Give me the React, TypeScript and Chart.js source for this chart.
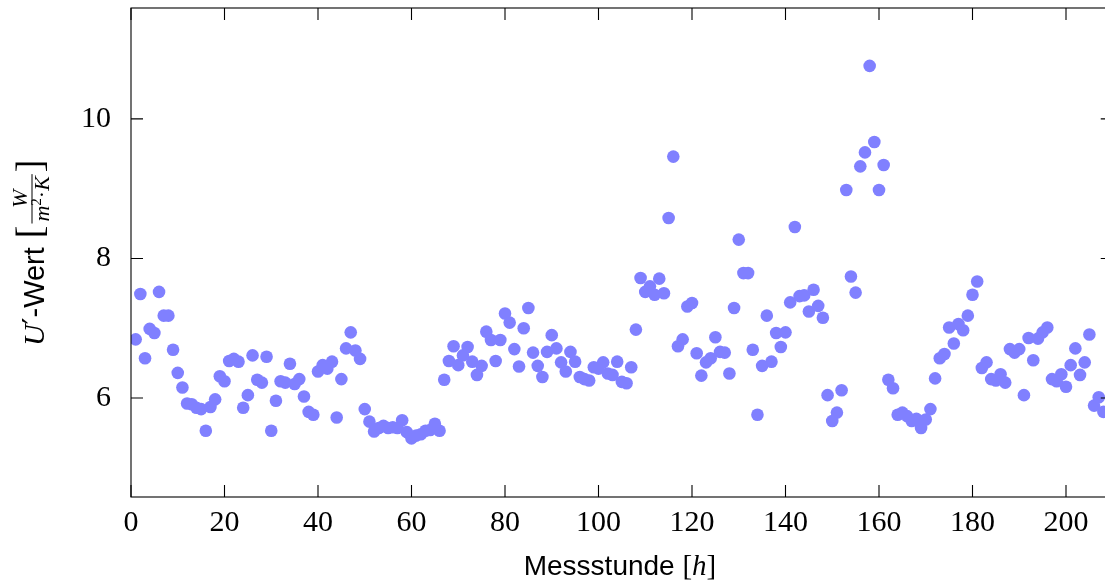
import { useEffect, useRef } from 'react';
import { Chart, registerables } from 'chart.js';

Chart.register(...registerables);

const X_MIN = 0;
const X_MAX = 210;
const Y_MIN = 4.58;
const Y_MAX = 11.59;
const X_TICKS = [0, 20, 40, 60, 80, 100, 120, 140, 160, 180, 200];
const Y_TICKS = [6, 8, 10];
const POINT_COLOR = 'rgb(128,128,255)';

// U'-Wert per Messstunde (hour 1 .. 208)
const U_VALUES = [
  6.84, 7.49, 6.57, 6.99, 6.93, 7.52, 7.18, 7.18, 6.69, 6.36,
  6.15, 5.92, 5.91, 5.86, 5.84, 5.53, 5.87, 5.98, 6.31, 6.24,
  6.53, 6.56, 6.52, 5.86, 6.04, 6.61, 6.26, 6.22, 6.59, 5.53,
  5.96, 6.24, 6.22, 6.49, 6.20, 6.27, 6.02, 5.80, 5.76, 6.38,
  6.47, 6.42, 6.52, 5.72, 6.27, 6.71, 6.94, 6.68, 6.56, 5.84,
  5.66, 5.52, 5.57, 5.60, 5.57, 5.58, 5.57, 5.68, 5.51, 5.42,
  5.46, 5.48, 5.53, 5.54, 5.63, 5.53, 6.26, 6.53, 6.74, 6.47,
  6.61, 6.73, 6.52, 6.33, 6.46, 6.95, 6.83, 6.53, 6.83, 7.21,
  7.08, 6.70, 6.45, 7.00, 7.29, 6.65, 6.46, 6.30, 6.66, 6.90,
  6.71, 6.51, 6.38, 6.66, 6.52, 6.30, 6.27, 6.25, 6.44, 6.42,
  6.51, 6.35, 6.33, 6.52, 6.23, 6.21, 6.44, 6.98, 7.72, 7.52,
  7.60, 7.48, 7.71, 7.50, 8.58, 9.46, 6.74, 6.84, 7.31, 7.36,
  6.64, 6.32, 6.51, 6.57, 6.87, 6.66, 6.65, 6.35, 7.29, 8.27,
  7.79, 7.79, 6.69, 5.76, 6.46, 7.18, 6.52, 6.93, 6.73, 6.94,
  7.37, 8.45, 7.46, 7.47, 7.24, 7.55, 7.32, 7.15, 6.04, 5.67,
  5.79, 6.11, 8.98, 7.74, 7.51, 9.32, 9.52, 10.76, 9.67, 8.98,
  9.34, 6.26, 6.14, 5.76, 5.79, 5.74, 5.67, 5.70, 5.57, 5.69,
  5.84, 6.28, 6.57, 6.63, 7.01, 6.78, 7.06, 6.97, 7.18, 7.48,
  7.67, 6.43, 6.51, 6.27, 6.25, 6.34, 6.22, 6.70, 6.65, 6.70,
  6.04, 6.86, 6.54, 6.85, 6.94, 7.01, 6.27, 6.24, 6.34, 6.16,
  6.47, 6.71, 6.33, 6.51, 6.91, 5.89, 6.01, 5.80,
];

const SANS = '"Liberation Sans", Arial, sans-serif';
const SERIF = '"Liberation Serif", "Times New Roman", serif';

type Part = { t: string; f: string; dy?: number };

function drawParts(ctx: CanvasRenderingContext2D, parts: Part[], x0: number, y0: number) {
  let x = x0;
  for (const p of parts) {
    ctx.font = p.f;
    ctx.fillText(p.t, x, y0 + (p.dy || 0));
    x += ctx.measureText(p.t).width;
  }
  return x;
}

function partsWidth(ctx: CanvasRenderingContext2D, parts: Part[]) {
  let w = 0;
  for (const p of parts) {
    ctx.font = p.f;
    w += ctx.measureText(p.t).width;
  }
  return w;
}

const framePlugin = {
  id: 'pgfFrame',
  afterDraw(chart: any) {
    const { ctx, chartArea: a, scales } = chart;
    ctx.save();
    ctx.strokeStyle = '#000';
    ctx.lineWidth = 1.1;
    ctx.strokeRect(a.left, a.top, a.right - a.left, a.bottom - a.top);
    const T = 12;
    ctx.beginPath();
    X_TICKS.forEach((v) => {
      const px = scales.x.getPixelForValue(v);
      ctx.moveTo(px, a.bottom);
      ctx.lineTo(px, a.bottom - T);
      ctx.moveTo(px, a.top);
      ctx.lineTo(px, a.top + T);
    });
    Y_TICKS.forEach((v) => {
      const py = scales.y.getPixelForValue(v);
      ctx.moveTo(a.left, py);
      ctx.lineTo(a.left + T, py);
      ctx.moveTo(a.right, py);
      ctx.lineTo(a.right - T, py);
    });
    ctx.stroke();

    // X axis title
    ctx.fillStyle = '#000';
    ctx.textAlign = 'left';
    ctx.textBaseline = 'alphabetic';
    const xParts: Part[] = [
      { t: 'Messstunde ', f: `28px ${SANS}` },
      { t: '[', f: `29px ${SERIF}` },
      { t: 'h', f: `italic 29px ${SERIF}` },
      { t: ']', f: `29px ${SERIF}` },
    ];
    const xw = partsWidth(ctx, xParts);
    drawParts(ctx, xParts, 620 - xw / 2, 575);

    // Y axis title (rotated)
    ctx.save();
    ctx.translate(44, 346);
    ctx.rotate(-Math.PI / 2);
    let x = drawParts(ctx, [
      { t: 'U', f: `italic 30px ${SERIF}` },
      { t: '′', f: `30px "DejaVu Serif", serif`, dy: 0 },
      { t: '-Wert', f: `29px ${SANS}` },
    ], 0, 0);
    x += 9;
    ctx.font = `38px ${SERIF}`;
    ctx.fillText('[', x, -2);
    x += ctx.measureText('[').width + 2;
    const den: Part[] = [
      { t: 'm', f: `italic 22px ${SERIF}` },
      { t: '2', f: `15px ${SERIF}`, dy: -8 },
      { t: '·', f: `22px ${SERIF}` },
      { t: 'K', f: `italic 22px ${SERIF}` },
    ];
    const dw = partsWidth(ctx, den);
    ctx.font = `italic 22px ${SERIF}`;
    const nw = ctx.measureText('W').width;
    const fw = Math.max(dw, nw) + 4;
    ctx.fillText('W', x + (fw - nw) / 2, -17);
    drawParts(ctx, den, x + (fw - dw) / 2, 5);
    ctx.lineWidth = 1;
    ctx.beginPath();
    ctx.moveTo(x, -12);
    ctx.lineTo(x + fw, -12);
    ctx.stroke();
    x += fw + 2;
    ctx.font = `38px ${SERIF}`;
    ctx.fillText(']', x, -2);
    ctx.restore();

    ctx.restore();
  },
};

export default function App() {
  const ref = useRef<HTMLCanvasElement>(null);

  useEffect(() => {
    document.body.style.margin = '0';
    const canvas = ref.current;
    if (!canvas) return;
    const points = U_VALUES.map((v, i) => ({ x: i + 1, y: v }));
    const chart = new Chart(canvas, {
      type: 'scatter',
      data: {
        datasets: [
          {
            data: points,
            backgroundColor: POINT_COLOR,
            borderWidth: 0,
            pointRadius: 6.3,
            pointHoverRadius: 6.3,
          },
        ],
      },
      options: {
        animation: false,
        responsive: false,
        devicePixelRatio: 1,
        layout: { padding: { top: 8, right: 7.25, left: 0, bottom: 0 } },
        plugins: { legend: { display: false }, tooltip: { enabled: false }, title: { display: false } },
        scales: {
          x: {
            type: 'linear',
            min: X_MIN,
            max: X_MAX,
            grid: { display: false },
            border: { display: false },
            afterBuildTicks: (s: any) => {
              s.ticks = X_TICKS.map((v) => ({ value: v }));
            },
            afterFit: (s: any) => {
              s.height = 86;
              s.paddingLeft = 0;
              s.paddingRight = 0;
            },
            ticks: {
              color: '#000',
              font: { family: SERIF, size: 30 },
              padding: 0,
              maxRotation: 0,
              autoSkip: false,
            },
          },
          y: {
            type: 'linear',
            min: Y_MIN,
            max: Y_MAX,
            grid: { display: false },
            border: { display: false },
            afterBuildTicks: (s: any) => {
              s.ticks = Y_TICKS.map((v) => ({ value: v }));
            },
            afterFit: (s: any) => {
              s.width = 131;
              s.paddingTop = 0;
              s.paddingBottom = 0;
            },
            ticks: {
              color: '#000',
              font: { family: SERIF, size: 30 },
              padding: 12,
              autoSkip: false,
            },
          },
        },
      },
      plugins: [framePlugin],
    });
    return () => chart.destroy();
  }, []);

  return (
    <div style={{ width: 1105, height: 583, overflow: 'hidden', background: '#fff' }}>
      <canvas ref={ref} width={1120} height={583} style={{ display: 'block' }} />
    </div>
  );
}
